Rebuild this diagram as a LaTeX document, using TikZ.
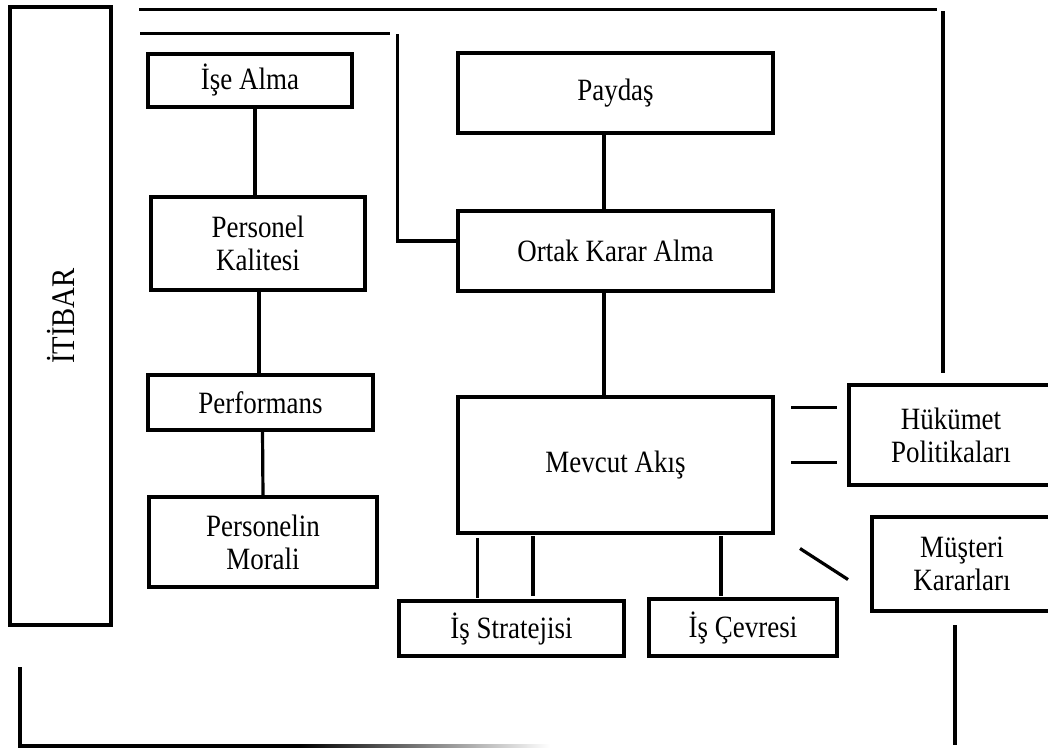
\documentclass[tikz,border=0pt]{standalone}
\usepackage{fontspec}
\setmainfont[FakeStretch=0.87]{Liberation Serif}
\begin{document}
\begin{tikzpicture}[x=1pt, y=-1pt,
  ln/.style={line width=3.2pt},
  box/.style={draw, line width=3.2pt, inner sep=0pt, outer sep=0pt, align=center,
    font=\fontsize{31}{33}\selectfont},
  vbox/.style={draw, line width=3.2pt, inner sep=0pt, outer sep=0pt}]
\useasboundingbox (0,0) rectangle (1048,748);
\clip (0,0) rectangle (1048,748);
\fill[white] (0,0) rectangle (1048,748);

% left pillar
\node[vbox, minimum width=101pt, minimum height=618pt] (itibar) at (60.5,316) {};
\node[rotate=90, font=\fontsize{33}{36}\selectfont] (itibartext) at (itibar.center) {İTİBAR};

% personnel column
\node[box, minimum width=204pt, minimum height=53pt] (ise) at (250,80.5) {İşe Alma};
\node[box, minimum width=214pt, minimum height=93pt] (kal) at (258,243.5) {Personel\\Kalitesi};
\node[box, minimum width=225pt, minimum height=55pt] (perf) at (260.5,402.5) {Performans};
\node[box, minimum width=228pt, minimum height=90pt] (moral) at (263,542) {Personelin\\Morali};

% central column
\node[box, minimum width=315pt, minimum height=80pt] (paydas) at (615.5,93) {Paydaş};
\node[box, minimum width=315pt, minimum height=80pt] (ortak) at (615.5,251) {Ortak Karar Alma};
\node[box, minimum width=315pt, minimum height=136pt] (mevcut) at (615.5,465) {Mevcut Akış};

% right side
\node[box, minimum width=204pt, minimum height=100pt] (hukumet) at (951,435) {Hükümet\\Politikaları};
\node[box, minimum width=180pt, minimum height=94pt] (musteri) at (962,564) {Müşteri\\Kararları};

% bottom row
\node[box, minimum width=225pt, minimum height=55pt] (strat) at (511.5,628.5) {İş Stratejisi};
\node[box, minimum width=188pt, minimum height=57pt] (cevre) at (743,627.5) {İş Çevresi};

% column connectors
\draw[ln] ([xshift=5pt]ise.south) -- ([xshift=-3pt]kal.north);
\draw[ln] ([xshift=1pt]kal.south) -- ([xshift=-1.5pt]perf.north);
\draw[ln] ([xshift=2pt]perf.south) -- (moral.north);
\draw[ln] ([xshift=-11.5pt]paydas.south) -- ([xshift=-11.5pt]ortak.north);
\draw[ln] ([xshift=-11.5pt]ortak.south) -- ([xshift=-11.5pt]mevcut.north);

% outer frame lines
\coordinate (topL) at (139,9.5);
\coordinate (topR) at (937,9.5);
\coordinate (rTop) at (943,11);
\coordinate (rEnd) at (943,373);
\draw[ln] (topL) -- (topR);
\draw[ln] (rTop) -- (rEnd);

\coordinate (secL) at (140,33.5);
\coordinate (secR) at (390,33.5);
\coordinate (secV) at (397.5,34);
\draw[ln] (secL) -- (secR);
\draw[ln] (secV) |- ([yshift=10pt]ortak.west);

% links around the current flow
\coordinate (g1a) at (791,407.5);  \coordinate (g1b) at (837,407.5);
\coordinate (g2a) at (791,462.5);  \coordinate (g2b) at (837,462.5);
\draw[ln] (g1a) -- (g1b);
\draw[ln] (g2a) -- (g2b);
\coordinate (m1) at (800,548.5);   \coordinate (m2) at (848,579.5);
\draw[ln] (m1) -- (m2);

\coordinate (s1a) at (477.5,538);  \coordinate (s1b) at (477.5,598);
\coordinate (s2a) at (533,536);    \coordinate (s2b) at (533,596);
\coordinate (c1a) at (721,536);    \coordinate (c1b) at (721,596);
\draw[ln] (s1a) -- (s1b);
\draw[ln] (s2a) -- (s2b);
\draw[ln] (c1a) -- (c1b);

% bottom frame
\coordinate (bl1) at (20,667);
\coordinate (bl2) at (20,746);
\coordinate (bl3) at (300,746);
\draw[ln] (bl1) -- (bl2) -- (bl3);
\shade[left color=black, right color=white] (300,744.4) rectangle (550,747.6);
\coordinate (br1) at (955,625);
\coordinate (br2) at (955,745);
\draw[ln] (br1) -- (br2);
\end{tikzpicture}
\end{document}
